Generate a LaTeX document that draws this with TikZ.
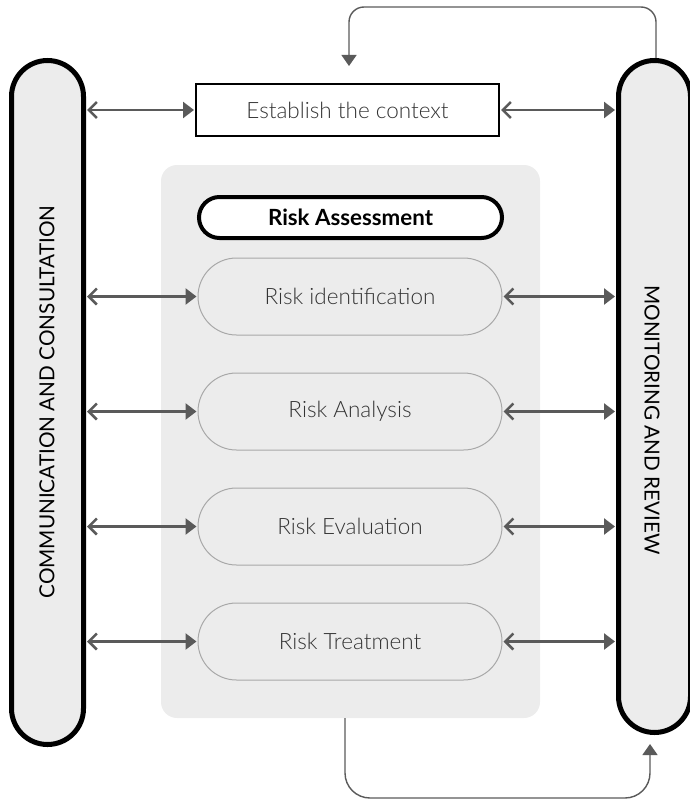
\documentclass[tikz,border=0pt]{standalone}
\usepackage{fontspec}
\setmainfont{Lato}
\newfontfamily\lightfont{Lato Light}
\usetikzlibrary{arrows.meta,calc}
\definecolor{pillgray}{HTML}{ECECEC}
\definecolor{arrowgray}{HTML}{5A5A5A}
\definecolor{borderg}{HTML}{A8A8A8}
\definecolor{textgray}{HTML}{333333}
\tikzset{
  sidepill/.style={draw=black, line width=5pt, fill=pillgray, minimum width=72pt, rounded corners=36pt, inner sep=0pt},
  riskpill/.style={draw=borderg, line width=1pt, fill=pillgray, minimum width=304pt, minimum height=77pt, rounded corners=38.5pt, inner sep=0pt, text=textgray, font=\lightfont\fontsize{22.5}{26}\selectfont},
  ctxbox/.style={draw=black, line width=2pt, fill=white, minimum width=303pt, minimum height=52pt, inner sep=0pt, text=textgray, font=\lightfont\fontsize{22.5}{26}\selectfont},
  assessbox/.style={draw=black, line width=4pt, fill=white, minimum width=303pt, minimum height=41pt, rounded corners=20.5pt, inner sep=0pt, font=\bfseries\fontsize{22.3}{26}\selectfont},
  panelbox/.style={fill=pillgray, rounded corners=16pt, minimum width=379pt, minimum height=553pt, inner sep=0pt},
  dblarrow/.style={draw=arrowgray, line width=2.5pt, {Straight Barb[length=8pt,width=16pt,line width=2.5pt]}-{Triangle[length=11pt,width=16pt]}, shorten <=1pt, shorten >=1pt},
  looparrow/.style={draw=arrowgray, line width=1.4pt, rounded corners=15pt, -{Triangle[length=11pt,width=15pt]}},
  sidetext/.style={font=\fontsize{20.7}{24}\selectfont, text=black}
}
\begin{document}
\begin{tikzpicture}[x=1pt,y=-1pt]
\useasboundingbox (0,0) rectangle (690,800);
% side pills
\node[sidepill, minimum height=684pt] (cc) at (47.5,402.5) {};
\node[sidepill, minimum height=672pt] (mr) at (654.5,396.5) {};
\node[sidetext, rotate=90] (cctext) at (47,402) {COMMUNICATION AND CONSULTATION};
\node[sidetext, rotate=-90] (mrtext) at (652,420) {MONITORING AND REVIEW};
% panel
\node[panelbox] (panel) at (350.5,441.5) {};
% context box
\node[ctxbox] (ctx) at (347.5,110) {Establish the context};
% risk assessment
\node[assessbox] (ra) at (350.5,217.5) {Risk Assessment};
\node[riskpill] (r1) at (350,296.5) {Risk identification};
\node[riskpill] (r2) at (350,411.5) {Risk Analysis};
\node[riskpill] (r3) at (350,526.5) {Risk Evaluation};
\node[riskpill] (r4) at (350,641.5) {Risk Treatment};
% horizontal arrows
\draw[dblarrow] (cc.east |- ctx) -- (ctx.west);
\draw[dblarrow] (ctx.east) -- (mr.west |- ctx);
\foreach \n in {r1,r2,r3,r4}{
  \draw[dblarrow] (cc.east |- \n) -- (\n.west);
  \draw[dblarrow] (\n.east) -- (mr.west |- \n);
}
% loops
\coordinate (topin) at (349,66);
\draw[looparrow] ($(mr.north)+(1.5,0)$) -- ++(0,-51) -| (topin);
\coordinate (botout) at (345,718);
\coordinate (botin) at (650,744);
\draw[looparrow, rounded corners=25pt] (botout) -- (345,798) -| (botin);
\end{tikzpicture}
\end{document}
